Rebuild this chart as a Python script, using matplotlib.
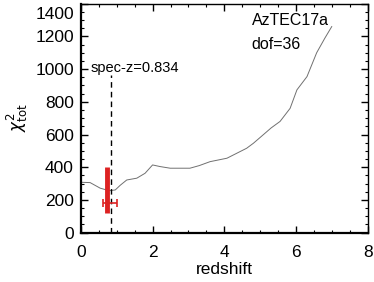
import matplotlib
matplotlib.use("Agg")
import matplotlib.pyplot as plt
import matplotlib.transforms as mtransforms
from matplotlib.ticker import MultipleLocator

plt.rcParams['font.family'] = ['Liberation Sans', 'DejaVu Sans']

z = [0.0, 0.26, 0.54, 0.72, 0.82, 0.96, 1.1, 1.28, 1.56, 1.79, 2.0, 2.21, 2.49, 2.77,
     3.04, 3.3, 3.6, 4.07, 4.62, 4.81, 5.09, 5.3, 5.55, 5.83, 6.02, 6.3, 6.57, 6.8, 6.99]
chi2 = [308, 306, 272, 261, 257, 261, 290, 322, 333, 363, 414, 404, 394, 394,
        394, 410, 434, 455, 516, 547, 600, 640, 680, 760, 873, 954, 1100, 1190, 1260]

spec_z = 0.834
spec_top = 965
bar_z = 0.73
bar_lo, bar_hi = 119, 400
err_z, err_y, err_dz = 0.81, 180, 0.19

xticks = [0, 2, 4, 6, 8]
yticks = [0, 200, 400, 600, 800, 1000, 1200, 1400]

fig = plt.figure(figsize=(3.74, 2.82), dpi=100)
ax = fig.add_axes([0.216, 0.175, 0.768, 0.812])

ax.plot(z, chi2, color='#707070', lw=0.7)
ax.plot([spec_z, spec_z], [0, spec_top], color='black', lw=1.0, ls=(0, (4, 3)))
ax.text(0.26, 1007, 'spec-z=0.834', fontsize=10.5, va='center', ha='left')
ax.errorbar([err_z], [err_y], xerr=[err_dz], color='#dd2222', lw=1.2, capsize=3, capthick=1.2, fmt='none')
ax.plot([bar_z, bar_z], [bar_lo, bar_hi], color='#dd2222', lw=3.5, solid_capstyle='butt')

ax.text(4.76, 1300, 'AzTEC17a', fontsize=11.5, va='center', ha='left')
ax.text(4.76, 1148, 'dof=36', fontsize=11.5, va='center', ha='left')

ax.set_xlim(0, 8)
ax.set_ylim(0, 1400)
ax.set_xticks(xticks)
ax.set_yticks(yticks)
ax.xaxis.set_minor_locator(MultipleLocator(0.5))
ax.yaxis.set_minor_locator(MultipleLocator(50))
ax.tick_params(which='both', direction='in', top=True, right=True, labelsize=12.5)
ax.tick_params(which='major', length=5, width=1)
ax.tick_params(which='minor', length=2.5, width=0.8)
ax.tick_params(axis='x', pad=9)
ax.tick_params(axis='y', pad=5)
ax.set_xlabel('redshift', fontsize=12.5, labelpad=1)
ax.set_ylabel(r'$\chi^2_{\rm tot}$', fontsize=12, labelpad=4)
for s in ax.spines.values():
    s.set_linewidth(1.0)
ax.spines['left'].set_linewidth(1.6)
ax.spines['bottom'].set_linewidth(1.6)

top_lab = ax.yaxis.get_major_ticks()[-1].label1
top_lab.set_va('top')
top_lab.set_transform(top_lab.get_transform() + mtransforms.ScaledTranslation(0, -3/100, fig.dpi_scale_trans))

fig.savefig('out.png', dpi=100)
